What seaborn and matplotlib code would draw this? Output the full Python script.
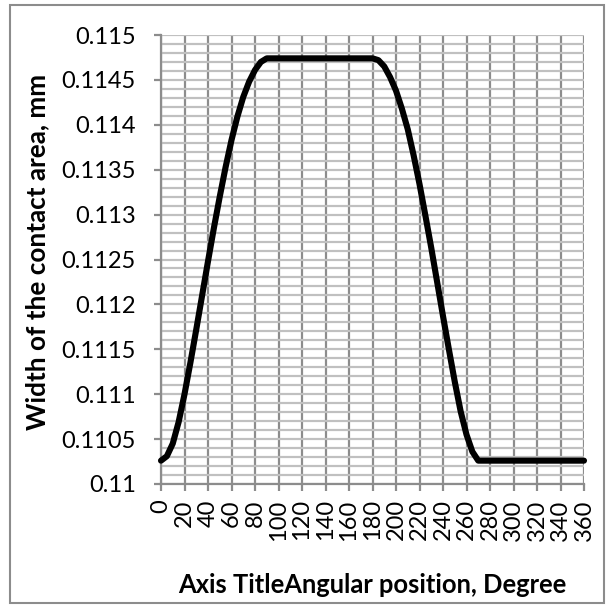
import numpy as np
import pandas as pd
import matplotlib
matplotlib.use("Agg")
import matplotlib.pyplot as plt
import seaborn as sns
from matplotlib.patches import Rectangle
from matplotlib.ticker import MultipleLocator, FixedLocator, FixedFormatter

# ---- data ----
angles = [0, 5, 10, 15, 20, 25, 30, 35, 40, 45, 50, 55, 60, 65, 70, 75, 80, 85, 90,
          180, 185, 190, 195, 200, 205, 210, 215, 220, 225, 230, 235, 240, 245, 250,
          255, 260, 265, 270, 360]
contact_width = [0.11026, 0.11031, 0.11045, 0.11069, 0.11100, 0.11135, 0.11172, 0.11210,
                 0.11248, 0.11285, 0.11320, 0.11353, 0.11383, 0.11409, 0.11431, 0.11448,
                 0.11461, 0.11470, 0.11474,
                 0.11474, 0.11472, 0.11465, 0.11453, 0.11438, 0.11418, 0.11395, 0.11366,
                 0.11334, 0.11299, 0.11263, 0.11225, 0.11187, 0.11150, 0.11114,
                 0.11081, 0.11055, 0.11036, 0.11026, 0.11026]

x_ticks = list(range(0, 361, 20))
x_tick_labels = [str(v) for v in x_ticks]
y_ticks = [0.11, 0.1105, 0.111, 0.1115, 0.112, 0.1125, 0.113, 0.1135, 0.114, 0.1145, 0.115]
y_tick_labels = ["0.11", "0.1105", "0.111", "0.1115", "0.112", "0.1125", "0.113",
                 "0.1135", "0.114", "0.1145", "0.115"]
x_title = "Axis TitleAngular position, Degree"
y_title = "Width of the contact area, mm"

sns.set_theme(style="white")
plt.rcParams['font.family'] = ['Lato', 'DejaVu Sans']

W, H = 611, 608
fig = plt.figure(figsize=(W / 100, H / 100), dpi=100)
fig.patch.set_facecolor("white")

L, R, T, B = 161, 584, 35, 484
ax = fig.add_axes([L / W, 1 - B / H, (R - L) / W, (B - T) / H])
ax.set_facecolor("white")

df = pd.DataFrame({"angle": angles, "width": contact_width})
sns.lineplot(data=df, x="angle", y="width", ax=ax, color="black", linewidth=4.4,
             solid_capstyle="round", solid_joinstyle="round", clip_on=False, zorder=5)

ax.set_xlim(0, 360)
ax.set_ylim(0.11, 0.115)
ax.xaxis.set_major_locator(FixedLocator(x_ticks))
ax.xaxis.set_major_formatter(FixedFormatter(x_tick_labels))
ax.yaxis.set_major_locator(FixedLocator(y_ticks))
ax.yaxis.set_major_formatter(FixedFormatter(y_tick_labels))
ax.yaxis.set_minor_locator(MultipleLocator(0.0001))

ax.set_axisbelow(True)
ax.grid(which="both", axis="y", color="#c0c0c0", linewidth=1.6)
ax.grid(which="major", axis="x", color="#8c8c8c", linewidth=1.6)

for s in ["top", "right"]:
    ax.spines[s].set_visible(False)
for s in ["left", "bottom"]:
    ax.spines[s].set_color("#8c8c8c")
    ax.spines[s].set_linewidth(1.6)

ax.tick_params(axis="y", which="major", direction="out", length=5, width=1.6,
               color="#8c8c8c", labelsize=17, pad=13, labelcolor="black", left=True)
ax.tick_params(axis="y", which="minor", length=0)
ax.tick_params(axis="x", which="major", direction="out", length=5, width=1.6,
               color="#8c8c8c", labelsize=17, pad=6, labelcolor="black",
               labelrotation=90, bottom=True)

ax.set_xlabel("")
ax.set_ylabel("")

fig.text(37 / W, 1 - 252 / H, y_title, rotation=90, ha="center", va="center",
         fontsize=18.8, fontweight="bold", color="black")
fig.text(372 / W, 1 - 585 / H, x_title, ha="center", va="center",
         fontsize=18.4, fontweight="bold", color="black")

fig.patches.append(Rectangle((10 / W, 1 - 603 / H), 594 / W, 598 / H,
                             transform=fig.transFigure, fill=False,
                             edgecolor="#8c8c8c", linewidth=1.5))

fig.savefig("out.png", dpi=100)
